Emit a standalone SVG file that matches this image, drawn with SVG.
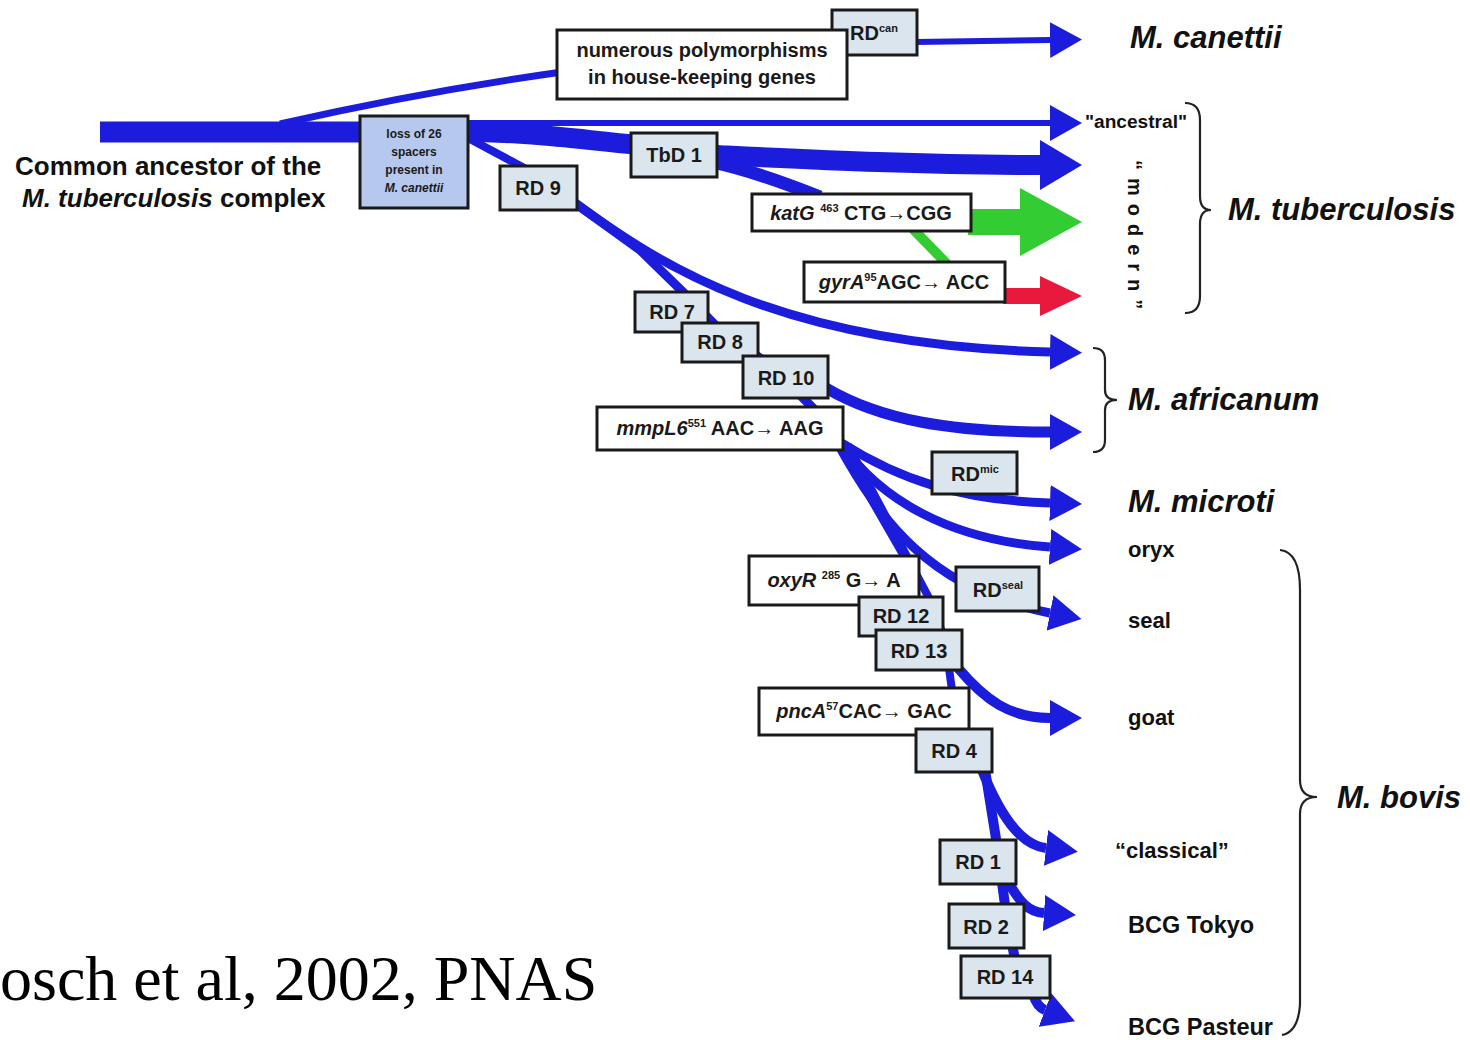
<svg xmlns="http://www.w3.org/2000/svg" width="1470" height="1040" viewBox="0 0 1470 1040">
<style>
.bx rect{stroke:#1a1a1a;stroke-width:3}
.rd{fill:#dbe5ee}
.wt{fill:#ffffff}
.ls{fill:#b7c8ee}
.lbl{font-family:"Liberation Sans",Arial,sans-serif;font-weight:bold;font-size:20px;fill:#1a1a1a;text-anchor:middle}
.sm{font-size:12px}
.it{font-style:italic}
.sup{font-size:11px}
.cn path{fill:none;stroke:#1c1cdc;stroke-linecap:butt}
.sp{font-family:"Liberation Sans",Arial,sans-serif;font-weight:bold;fill:#111}
.big{font-size:31px;font-style:italic}
.mid{font-size:22px}
.bcg{font-size:23.5px}
.br{fill:none;stroke:#222;stroke-width:2.2}
</style>
<defs>
<marker id="ah" markerUnits="userSpaceOnUse" markerWidth="32" markerHeight="36" refX="0" refY="18" orient="auto" viewBox="0 0 32 36"><path d="M0,0 L32,18 L0,36 Z" fill="#1c1cdc"/></marker>
<marker id="ahL" markerUnits="userSpaceOnUse" markerWidth="42" markerHeight="50" refX="0" refY="25" orient="auto" viewBox="0 0 42 50"><path d="M0,0 L42,25 L0,50 Z" fill="#1c1cdc"/></marker>
<marker id="ahG" markerUnits="userSpaceOnUse" markerWidth="62" markerHeight="68" refX="0" refY="34" orient="auto" viewBox="0 0 62 68"><path d="M0,0 L62,34 L0,68 Z" fill="#33cc33"/></marker>
<marker id="ahR" markerUnits="userSpaceOnUse" markerWidth="42" markerHeight="40" refX="0" refY="20" orient="auto" viewBox="0 0 42 40"><path d="M0,0 L42,20 L0,40 Z" fill="#e8193c"/></marker>
</defs>
<rect width="1470" height="1040" fill="#ffffff"/>

<g id="connectors" class="cn">
  <path d="M100 132 L470 132" stroke-width="21"/>
  <path d="M280 124 Q420 92 562 72" stroke-width="7"/>
  <path d="M915 42 L1050 40" stroke-width="6" marker-end="url(#ah)"/>
  <path d="M460 123 L1050 123" stroke-width="6" marker-end="url(#ah)"/>
  <path d="M460 132 C540 132 580 140 640 145" stroke-width="20"/>
  <path d="M715 155 C820 160 920 165 1040 165" stroke-width="20" marker-end="url(#ahL)"/>
  <path d="M712 162 C750 170 790 185 820 197" stroke-width="13"/>
  <path d="M968 222 L1020 222" stroke-width="26" style="stroke:#33cc33" marker-end="url(#ahG)"/>
  <path d="M913 229 L947 264" stroke-width="10" style="stroke:#33cc33"/>
  <path d="M1003 296 L1040 296" stroke-width="16" style="stroke:#e8193c" marker-end="url(#ahR)"/>
  <path d="M468 138 L528 170" stroke-width="8"/>
  <path d="M575 203 C660 265 780 345 1050 352" stroke-width="9" marker-end="url(#ah)"/>
  <path d="M575 203 L640 250 L684 293 L720 330 L770 365 L815 410" stroke-width="9"/>
  <path d="M826 388 C880 420 950 432 1050 432" stroke-width="11" marker-end="url(#ah)"/>
  <path d="M840 442 C900 480 960 500 1050 503" stroke-width="9" marker-end="url(#ah)"/>
  <path d="M840 442 C880 500 950 540 1050 547" stroke-width="9" marker-end="url(#ah)"/>
  <path d="M838 444 C880 520 930 590 1050 613" stroke-width="9" marker-end="url(#ah)"/>
  <path d="M840 445 L905 558" stroke-width="8"/>
  <path d="M848 445 L930 600 L945 640 L952 690 L965 735" stroke-width="8"/>
  <path d="M958 668 C985 700 1010 718 1050 718" stroke-width="10" marker-end="url(#ah)"/>
  <path d="M982 770 C1000 815 1020 845 1046 848" stroke-width="10" marker-end="url(#ah)"/>
  <path d="M985 770 L997 845 L1005 905 L1015 960" stroke-width="10"/>
  <path d="M1008 882 C1020 902 1028 912 1044 913" stroke-width="10" marker-end="url(#ah)"/>
  <path d="M1033 994 Q1037 1007 1045 1010" stroke-width="10" marker-end="url(#ah)"/>
</g>

<g id="n-rdcan" class="bx"><rect class="rd" x="832" y="10" width="85" height="45"/><text class="lbl" x="874" y="40">RD<tspan class="sup" dy="-8">can</tspan></text></g>
<g id="n-poly" class="bx"><rect class="wt" x="557" y="30" width="290" height="69"/><text class="lbl" x="702" y="57">numerous polymorphisms</text><text class="lbl" x="702" y="84">in house-keeping genes</text></g>
<g id="n-loss" class="bx"><rect class="ls" x="360" y="116" width="108" height="92"/><text class="lbl sm" x="414" y="138">loss of 26</text><text class="lbl sm" x="414" y="156">spacers</text><text class="lbl sm" x="414" y="174">present in</text><text class="lbl sm it" x="414" y="192">M. canettii</text></g>
<g id="n-tbd1" class="bx"><rect class="rd" x="631" y="133" width="86" height="44"/><text class="lbl" x="674" y="162">TbD 1</text></g>
<g id="n-rd9" class="bx"><rect class="rd" x="500" y="166" width="77" height="44"/><text class="lbl" x="538" y="195">RD 9</text></g>
<g id="n-katg" class="bx"><rect class="wt" x="752" y="194" width="219" height="37"/><text class="lbl" x="861" y="220"><tspan class="it">katG</tspan> <tspan class="sup" dy="-8">463</tspan><tspan dy="8"> CTG→CGG</tspan></text></g>
<g id="n-gyra" class="bx"><rect class="wt" x="804" y="262" width="201" height="40"/><text class="lbl" x="904" y="289"><tspan class="it">gyrA</tspan><tspan class="sup" dy="-8">95</tspan><tspan dy="8">AGC→ ACC</tspan></text></g>
<g id="n-rd7" class="bx"><rect class="rd" x="635" y="292" width="73" height="40"/><text class="lbl" x="672" y="319">RD 7</text></g>
<g id="n-rd8" class="bx"><rect class="rd" x="682" y="323" width="76" height="39"/><text class="lbl" x="720" y="349">RD 8</text></g>
<g id="n-rd10" class="bx"><rect class="rd" x="743" y="356" width="85" height="42"/><text class="lbl" x="786" y="385">RD 10</text></g>
<g id="n-mmpl6" class="bx"><rect class="wt" x="597" y="407" width="246" height="43"/><text class="lbl" x="720" y="435"><tspan class="it">mmpL6</tspan><tspan class="sup" dy="-8">551</tspan><tspan dy="8"> AAC→ AAG</tspan></text></g>
<g id="n-rdmic" class="bx"><rect class="rd" x="932" y="452" width="85" height="42"/><text class="lbl" x="975" y="481">RD<tspan class="sup" dy="-8">mic</tspan></text></g>
<g id="n-oxyr" class="bx"><rect class="wt" x="749" y="556" width="170" height="49"/><text class="lbl" x="834" y="587"><tspan class="it">oxyR</tspan> <tspan class="sup" dy="-8">285</tspan><tspan dy="8"> G→ A</tspan></text></g>
<g id="n-rdseal" class="bx"><rect class="rd" x="956" y="567" width="83" height="44"/><text class="lbl" x="998" y="597">RD<tspan class="sup" dy="-8">seal</tspan></text></g>
<g id="n-rd12" class="bx"><rect class="rd" x="859" y="597" width="84" height="39"/><text class="lbl" x="901" y="623">RD 12</text></g>
<g id="n-rd13" class="bx"><rect class="rd" x="876" y="630" width="86" height="40"/><text class="lbl" x="919" y="658">RD 13</text></g>
<g id="n-pnca" class="bx"><rect class="wt" x="759" y="688" width="210" height="47"/><text class="lbl" x="864" y="718"><tspan class="it">pncA</tspan><tspan class="sup" dy="-8">57</tspan><tspan dy="8">CAC→ GAC</tspan></text></g>
<g id="n-rd4" class="bx"><rect class="rd" x="916" y="729" width="76" height="43"/><text class="lbl" x="954" y="758">RD 4</text></g>
<g id="n-rd1" class="bx"><rect class="rd" x="940" y="840" width="76" height="44"/><text class="lbl" x="978" y="869">RD 1</text></g>
<g id="n-rd2" class="bx"><rect class="rd" x="949" y="904" width="75" height="44"/><text class="lbl" x="986" y="934">RD 2</text></g>
<g id="n-rd14" class="bx"><rect class="rd" x="961" y="956" width="89" height="42"/><text class="lbl" x="1005" y="984">RD 14</text></g>

<g id="n-ancestor"><text class="sp" x="15" y="175" font-size="26">Common ancestor of the</text><text class="sp" x="22" y="207" font-size="26"><tspan font-style="italic">M. tuberculosis</tspan> complex</text></g>

<g id="labels">
  <text class="sp big" x="1130" y="48">M. canettii</text>
  <text class="sp" x="1085" y="128" font-size="18" textLength="102" lengthAdjust="spacingAndGlyphs">"ancestral"</text>
  <text class="sp" font-size="20" letter-spacing="8" transform="translate(1128,160) rotate(90)">“modern”</text>
  <text class="sp big" x="1228" y="220">M. tuberculosis</text>
  <text class="sp big" x="1128" y="410">M. africanum</text>
  <text class="sp big" x="1128" y="512">M. microti</text>
  <text class="sp mid" x="1128" y="557">oryx</text>
  <text class="sp mid" x="1128" y="628">seal</text>
  <text class="sp mid" x="1128" y="725">goat</text>
  <text class="sp mid" x="1115" y="858">“classical”</text>
  <text class="sp bcg" x="1128" y="933">BCG Tokyo</text>
  <text class="sp bcg" x="1128" y="1035">BCG Pasteur</text>
  <text class="sp big" x="1337" y="808">M. bovis</text>
  <text x="0" y="1000" font-family="'Liberation Serif','Times New Roman',serif" font-size="64" fill="#000">osch et al, 2002, PNAS</text>
</g>

<g id="braces">
  <path class="br" d="M1185 103 Q1200 103 1200 120 L1200 196 Q1200 210 1211 210 Q1200 210 1200 224 L1200 296 Q1200 313 1185 313"/>
  <path class="br" d="M1093 348 Q1105 348 1105 360 L1105 390 Q1105 400 1117 400 Q1105 400 1105 410 L1105 440 Q1105 452 1093 452"/>
  <path class="br" d="M1280 550 Q1300 552 1300 590 L1300 780 Q1300 797 1317 797 Q1300 797 1300 814 L1300 1005 Q1298 1032 1282 1035"/>
</g>
</svg>
